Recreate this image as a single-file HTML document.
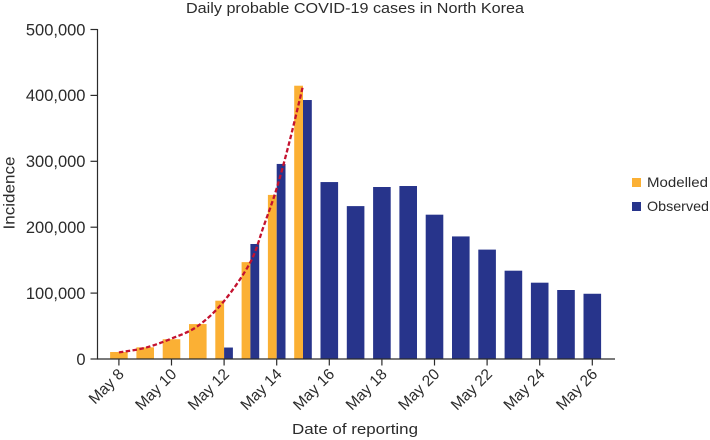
<!DOCTYPE html>
<html lang="en">
<head>
<meta charset="utf-8">
<title>Daily probable COVID-19 cases in North Korea</title>
<style>
html,body{margin:0;padding:0;background:#fff;width:710px;height:440px;overflow:hidden}
svg{display:block}
text{font-family:"Liberation Sans",sans-serif;fill:#2b2b2b}
</style>
</head>
<body>
<svg id="chart" width="710" height="440" viewBox="0 0 710 440" xmlns="http://www.w3.org/2000/svg">
  <text x="355" y="13" font-size="14.5" text-anchor="middle" textLength="338" lengthAdjust="spacingAndGlyphs">Daily probable COVID-19 cases in North Korea</text>
  <text transform="translate(14.5,193) rotate(-90)" font-size="15.5" text-anchor="middle" textLength="73" lengthAdjust="spacingAndGlyphs">Incidence</text>
  <text x="355" y="434" font-size="15" text-anchor="middle" textLength="126" lengthAdjust="spacingAndGlyphs">Date of reporting</text>
  <g id="bars"></g>
  <path id="curve" fill="none" stroke="#c4122f" stroke-width="2.3" stroke-dasharray="4.5 2.4"></path>
  <g id="axes"></g>
  <g>
    <g>
      <rect x="632" y="178" width="9" height="9" fill="#fbb034"></rect>
      <text x="647" y="187" font-size="14" textLength="61" lengthAdjust="spacingAndGlyphs">Modelled</text>
    </g>
    <g>
      <rect x="632" y="202" width="9" height="9" fill="#27348b"></rect>
      <text x="647" y="211" font-size="14" textLength="62" lengthAdjust="spacingAndGlyphs">Observed</text>
    </g>
  </g>
</svg>
<script>
var days = [8,9,10,11,12,13,14,15,16,17,18,19,20,21,22,23,24,25,26];
var modelled = [10600,17700,30000,53000,88500,147000,249000,414700,null,null,null,null,null,null,null,null,null,null,null];
var observed = [null,null,null,null,17400,174500,296000,393000,268500,232000,261000,262500,219000,186000,166000,134000,115800,104700,99000];
var curveDays = [8,9,10,11,12,13,13.5,14,14.5,15];
var curveValues = [10000,17000,31000,50000,88000,147000,201000,259000,332000,414700];
var yTicks = [0,100000,200000,300000,400000,500000];
var yTickLabels = ['0','100,000','200,000','300,000','400,000','500,000'];
var xTicks = [8,10,12,14,16,18,20,22,24,26];
var xTickLabels = ['May 8','May 10','May 12','May 14','May 16','May 18','May 20','May 22','May 24','May 26'];

var NS = 'http://www.w3.org/2000/svg';
function xScale(d){ return 118.9 + (d - 8) * 26.3; }
function yScale(v){ return 359 - v / 500000 * 329.5; }
function make(tag, parent, attrs){
  var el = document.createElementNS(NS, tag);
  for (var k in attrs) el.setAttribute(k, attrs[k]);
  parent.appendChild(el);
  return el;
}
var barsG = document.getElementById('bars');
var axesG = document.getElementById('axes');
var FULL = 17.6;

days.forEach(function(d, i){
  var m = modelled[i], o = observed[i];
  var both = m !== null && o !== null;
  var cx = xScale(d);
  if (m !== null) {
    var mw = both ? FULL / 2 : FULL;
    var mRect = make('rect', barsG, {x: cx - FULL / 2, y: yScale(m), width: mw, height: yScale(0) - yScale(m), fill: '#fbb034'});
    
    
  }
  if (o !== null) {
    var ow = both ? FULL / 2 : FULL;
    var ox = both ? cx : cx - FULL / 2;
    var oRect = make('rect', barsG, {x: ox, y: yScale(o), width: ow, height: yScale(0) - yScale(o), fill: '#27348b'});
    
    
  }
});

var pts = curveDays.map(function(d, i){ return [xScale(d), yScale(curveValues[i])]; });
var path = 'M' + pts[0][0] + ' ' + pts[0][1];
for (var i = 0; i < pts.length - 1; i++) {
  var p0 = pts[Math.max(i - 1, 0)], p1 = pts[i], p2 = pts[i + 1], p3 = pts[Math.min(i + 2, pts.length - 1)];
  path += ' C' + (p1[0] + (p2[0] - p0[0]) / 6) + ' ' + (p1[1] + (p2[1] - p0[1]) / 6) + ' ' +
          (p2[0] - (p3[0] - p1[0]) / 6) + ' ' + (p2[1] - (p3[1] - p1[1]) / 6) + ' ' + p2[0] + ' ' + p2[1];
}
document.getElementById('curve').setAttribute('d', path);

var yLine = make('line', axesG, {x1: 97.5, x2: 97.5, y1: yScale(500000) - 0.5, y2: yScale(0) + 0.5, stroke: '#2b2b2b', 'stroke-width': 1.2});


var xLine = make('line', axesG, {x1: 97, x2: 615, y1: yScale(0), y2: yScale(0), stroke: '#2b2b2b', 'stroke-width': 1.2});



yTicks.forEach(function(v, i){
  var y = yScale(v);
  var t = make('line', axesG, {x1: 90.5, x2: 97.5, y1: y, y2: y, stroke: '#2b2b2b', 'stroke-width': 1.2});
  
  
  var lab = make('text', axesG, {x: 85.5, y: y + 5.8, 'font-size': 16.5, 'text-anchor': 'end'});
  
  
  lab.textContent = yTickLabels[i];
});

xTicks.forEach(function(d, i){
  var x = xScale(d);
  var t = make('line', axesG, {x1: x, x2: x, y1: yScale(0), y2: 365.5, stroke: '#2b2b2b', 'stroke-width': 1.2});
  
  
  var lab = make('text', axesG, {transform: 'translate(' + (x + 6) + ',375) rotate(-45)', 'font-size': 15.5, 'text-anchor': 'end'});
  
  
  lab.textContent = xTickLabels[i];
});
</script>
</body>
</html>
